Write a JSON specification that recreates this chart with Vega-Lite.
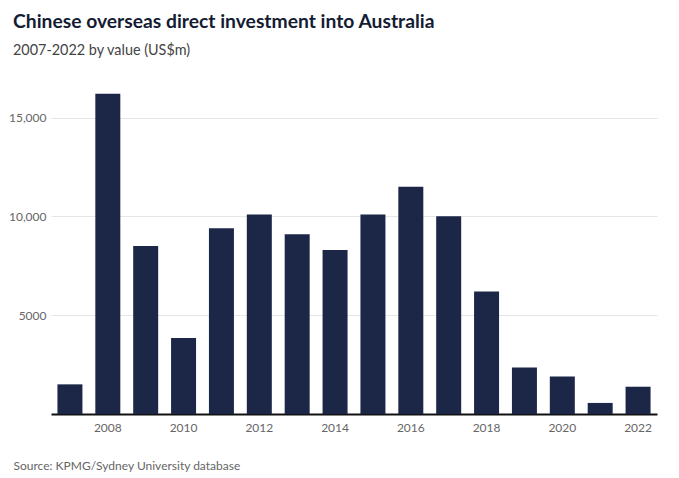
{
  "$schema": "https://vega.github.io/schema/vega-lite/v6.json",
  "autosize": "none",
  "width": 606,
  "height": 336,
  "padding": {"left": 51, "top": 78, "right": 22, "bottom": 64},
  "background": "#ffffff",
  "config": {"view": {"stroke": null}, "font": "Lato"},
  "title": {
    "text": "Chinese overseas direct investment into Australia",
    "subtitle": "2007-2022 by value (US$m)",
    "anchor": "start",
    "frame": "group",
    "dx": -38,
    "dy": -17,
    "font": "Lato",
    "fontSize": 19.3,
    "fontWeight": "bold",
    "color": "#141c33",
    "subtitleFont": "Lato",
    "subtitleFontSize": 14.4,
    "subtitleColor": "#444444",
    "subtitlePadding": 11
  },
  "data": {
    "values": [
      {"year": 2007, "value": 1500},
      {"year": 2008, "value": 16200},
      {"year": 2009, "value": 8500},
      {"year": 2010, "value": 3850},
      {"year": 2011, "value": 9400},
      {"year": 2012, "value": 10100},
      {"year": 2013, "value": 9100},
      {"year": 2014, "value": 8300},
      {"year": 2015, "value": 10100},
      {"year": 2016, "value": 11500},
      {"year": 2017, "value": 10000},
      {"year": 2018, "value": 6200},
      {"year": 2019, "value": 2350},
      {"year": 2020, "value": 1900},
      {"year": 2021, "value": 560},
      {"year": 2022, "value": 1380}
    ]
  },
  "mark": {"type": "bar", "color": "#1c2748"},
  "encoding": {
    "x": {
      "field": "year",
      "type": "ordinal",
      "scale": {"paddingInner": 0.34, "paddingOuter": 0.17},
      "axis": {
        "values": [2008, 2010, 2012, 2014, 2016, 2018, 2020, 2022],
        "labelAngle": 0,
        "labelFontSize": 12,
        "labelColor": "#666666",
        "labelPadding": 8,
        "ticks": false,
        "domainColor": "#111111",
        "domainWidth": 2,
        "title": "Source: KPMG/Sydney University database",
        "titleAnchor": "start",
        "titleAlign": "left",
        "titleX": -38,
        "titleY": 51,
        "titleBaseline": "middle",
        "titleFontSize": 12,
        "titleFontWeight": "normal",
        "titleColor": "#666666"
      }
    },
    "y": {
      "field": "value",
      "type": "quantitative",
      "scale": {"domain": [0, 17000], "nice": false},
      "axis": {
        "values": [5000, 10000, 15000],
        "labelExpr": "datum.value >= 10000 ? format(datum.value, ',') : format(datum.value, 'd')",
        "labelFontSize": 12,
        "labelColor": "#666666",
        "labelPadding": 5,
        "ticks": false,
        "domain": false,
        "gridColor": "#e6e6e6",
        "gridWidth": 1,
        "title": null
      }
    }
  }
}
